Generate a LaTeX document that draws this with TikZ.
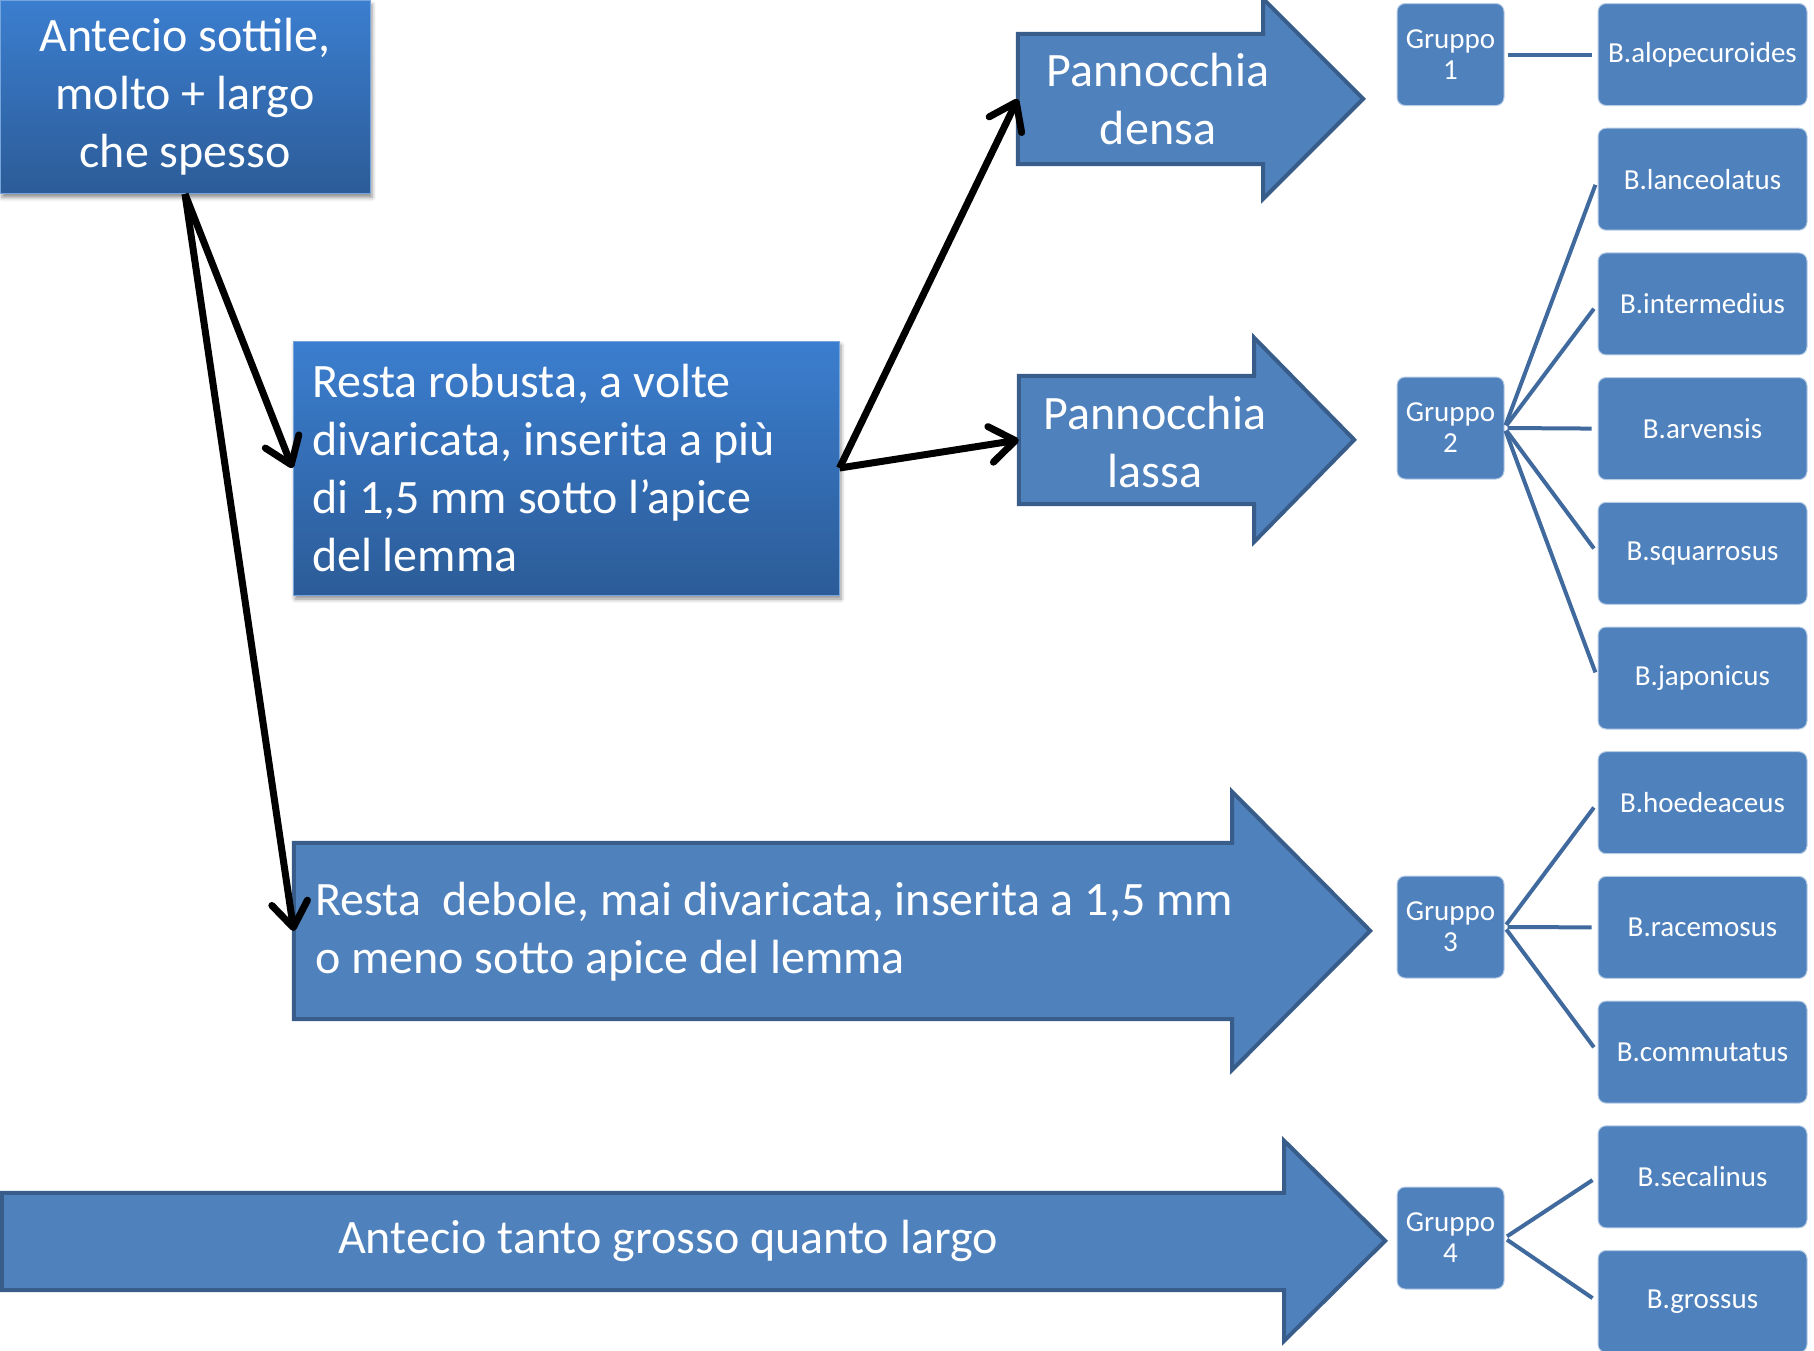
\documentclass[tikz,border=0pt]{standalone}
\usepackage{fontspec}
\setmainfont{Carlito}
\usetikzlibrary{arrows.meta, shadows.blur}

\definecolor{gradtop}{RGB}{59,126,207}
\definecolor{gradbot}{RGB}{44,92,152}
\definecolor{boxblue}{RGB}{79,129,189}
\definecolor{edgeblue}{RGB}{56,93,138}
\definecolor{linkblue}{RGB}{64,106,158}

\tikzset{
  keybox/.style={rectangle, top color=gradtop, bottom color=gradbot, draw=gradtop!70!white, line width=1pt,
    text=white, font=\fontsize{48}{58}\selectfont, inner ysep=0pt,
    blur shadow={shadow xshift=2pt, shadow yshift=-4pt, shadow opacity=45, shadow blur radius=4pt}},
  shaft/.style={rectangle, inner sep=0pt},
  blockarrow/.style={fill=boxblue, draw=edgeblue, line width=4pt, line join=miter},
  bigtxt/.style={text=white, font=\fontsize{48}{58}\selectfont, inner sep=0pt},
  gruppo/.style={rectangle, rounded corners=8pt, fill=boxblue, draw=white!60!boxblue, line width=1pt,
    minimum width=107pt, minimum height=102pt, inner sep=0pt, text=white, align=center,
    font=\fontsize{29}{31}\selectfont},
  specie/.style={gruppo, minimum width=209pt},
  link/.style={draw=linkblue, line width=4pt, shorten <=3pt, shorten >=6pt},
  choice/.style={draw=black, line width=7pt, -{Straight Barb[length=25pt, width=36pt, round]}},
}

\begin{document}
\begin{tikzpicture}[x=1pt, y=-1pt]
    \useasboundingbox (0,0) rectangle (1814,1350);

    % Key boxes
    \node[keybox, minimum width=370pt, minimum height=193pt, align=center] (ts) at (185,97)
        {Antecio sottile,\\molto + largo\\che spesso};
    \node[keybox, text width=508pt, inner xsep=19pt, minimum height=254pt, align=flush left] (rr) at (566,468)
        {Resta robusta, a volte\\divaricata, inserita a più\\di 1,5 mm sotto l’apice\\del lemma};

    % Block arrows
    \node[shaft, minimum width=245pt, minimum height=130pt] (pd) at (1140.5,99) {};
    \draw[blockarrow] (pd.north west) -- (pd.north east) -- ++(0,-35) -- ++(100,100) -- ++(-100,100)
        -- (pd.south east) -- (pd.south west) -- cycle;
    \node[bigtxt, align=center] (pdtxt) at (1158,99) {Pannocchia\\densa};

    \node[shaft, minimum width=235pt, minimum height=128pt] (pl) at (1136.5,440) {};
    \draw[blockarrow] (pl.north west) -- (pl.north east) -- ++(0,-38) -- ++(100,102) -- ++(-100,102)
        -- (pl.south east) -- (pl.south west) -- cycle;
    \node[bigtxt, align=center] (pltxt) at (1155,442) {Pannocchia\\lassa};

    \node[shaft, minimum width=938pt, minimum height=176pt] (rd) at (763,931) {};
    \draw[blockarrow] (rd.north west) -- (rd.north east) -- ++(0,-51) -- ++(138,139) -- ++(-138,139)
        -- (rd.south east) -- (rd.south west) -- cycle;
    \node[bigtxt, align=left, anchor=west] (rdtxt) at (315,932)
        {Resta~~debole, mai divaricata, inserita a 1,5 mm\\o meno sotto apice del lemma};

    \node[shaft, minimum width=1282pt, minimum height=97pt] (at) at (643,1241.5) {};
    \draw[blockarrow] (at.north west) -- (at.north east) -- ++(0,-52) -- ++(101,100) -- ++(-101,100)
        -- (at.south east) -- (at.south west) -- cycle;
    \node[bigtxt] (attxt) at (668,1241) {Antecio tanto grosso quanto largo};

    % Groups and species
    \node[gruppo] (g1) at (1450.5,54.5) {Gruppo\\1};
    \node[gruppo] (g2) at (1450.5,428) {Gruppo\\2};
    \node[gruppo] (g3) at (1450.5,927) {Gruppo\\3};
    \node[gruppo] (g4) at (1450.5,1238) {Gruppo\\4};

    \foreach \sp [count=\i from 0] in {alopecuroides,lanceolatus,intermedius,arvensis,squarrosus,
        japonicus,hoedeaceus,racemosus,commutatus,secalinus,grossus}
        \node[specie] (s\i) at (1702.5,54.5+124.7*\i) {B.\sp};

    \draw[link] (g1.east) -- (s0.west);
    \foreach \i in {1,...,5} \draw[link] (g2.east) -- (s\i.west);
    \foreach \i in {6,7,8} \draw[link] (g3.east) -- (s\i.west);
    \foreach \i in {9,10} \draw[link] (g4.east) -- (s\i.west);

    % Choices
    \draw[choice] (ts.south) -- (rr.west);
    \draw[choice] (ts.south) -- (rd.west);
    \draw[choice] (rr.east) -- (pd.west);
    \draw[choice] (rr.east) -- (pl.west);
\end{tikzpicture}
\end{document}
